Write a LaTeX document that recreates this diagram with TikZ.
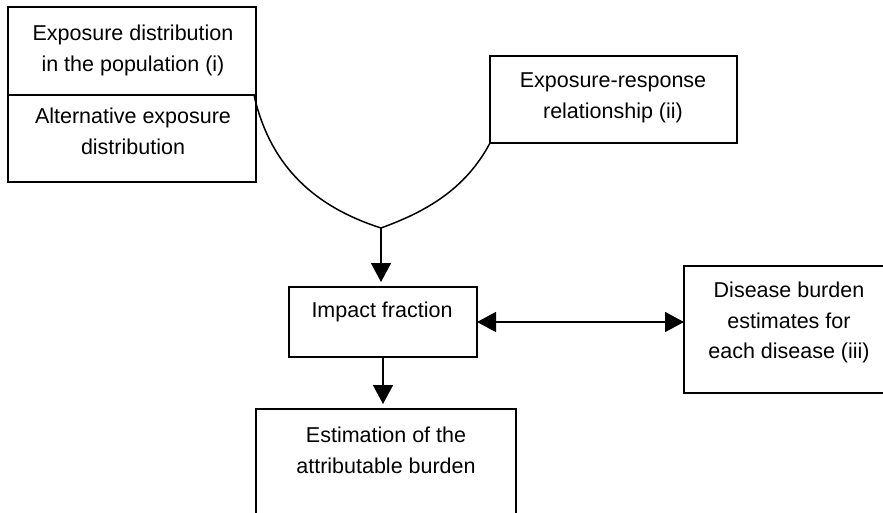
\documentclass[tikz,border=0pt]{standalone}
\usepackage{fontspec}
\setmainfont{Liberation Sans}
\usetikzlibrary{arrows.meta}
\begin{document}
\begin{tikzpicture}[x=1pt,y=-1pt,
  box/.style={draw, line width=1.5pt, inner sep=0pt, outer sep=0pt},
  lbl/.style={anchor=north, inner sep=0pt, align=center, font=\fontsize{21.5}{30.5}\selectfont},
  link/.style={line width=1.5pt},
  arr/.style={line width=1.5pt, -{Triangle[width=20pt,length=19pt]}},
  darr/.style={line width=1.5pt, {Triangle[width=20pt,length=19pt]}-{Triangle[width=20pt,length=19pt]}}]
\useasboundingbox (0,0) rectangle (883,513);
\clip (0,0) rectangle (883,513);
\node[box, minimum width=248pt, minimum height=88pt] (A) at (132,51) {};
\node[box, minimum width=248pt, minimum height=87pt] (B) at (132,138.5) {};
\node[box, minimum width=247pt, minimum height=87pt] (ER) at (613.5,99.5) {};
\node[box, minimum width=188pt, minimum height=70pt] (IF) at (383,322) {};
\node[box, minimum width=210pt, minimum height=127pt] (DB) at (789,329.5) {};
\node[box, minimum width=260pt, minimum height=140pt] (EB) at (386,479) {};
\draw[line width=2.6pt] (A.south west) -- (A.south east);
\node[lbl] (tA) at (133,25) {Exposure distribution\\in the population (i)};
\node[lbl] (tB) at (133,108) {Alternative exposure\\distribution};
\node[lbl] (tER) at (613,73) {Exposure-response\\relationship (ii)};
\node[lbl] (tIF) at (382,302) {Impact fraction};
\node[lbl] (tDB) at (789,282) {Disease burden\\estimates for\\each disease (iii)};
\node[lbl] (tEB) at (386,427) {Estimation of the\\attributable burden};
\coordinate (J) at (381,228);
\draw[link] ([xshift=-2pt]A.south east) .. controls (272,175) and (325,210) .. (J)
  .. controls (425,212) and (465,190) .. (ER.south west);
\draw[arr, shorten >=5pt] (J) -- (J |- IF.north);
\draw[arr, shorten >=5pt] (IF.south) -- (IF.south |- EB.north);
\draw[darr] (IF.east) -- (IF.east -| DB.west);
\end{tikzpicture}
\end{document}
